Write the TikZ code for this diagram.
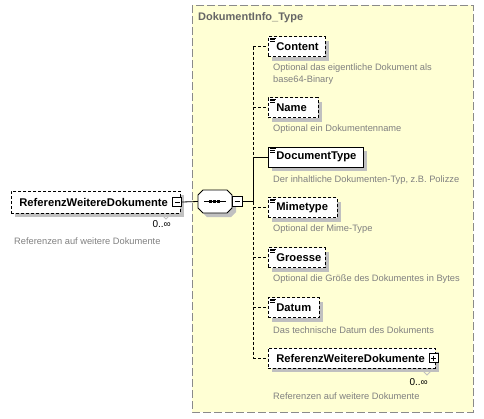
\documentclass[tikz,border=0pt]{standalone}
\usepackage{fontspec}
\setmainfont{Liberation Sans}
\usetikzlibrary{shadows,calc}
\definecolor{ybg}{HTML}{FFFFD4}
\definecolor{ybd}{HTML}{8A8A8A}
\definecolor{dsc}{HTML}{808080}
\definecolor{shd}{HTML}{C0C0C0}
\begin{document}
\begin{tikzpicture}[x=1pt,y=-1pt,
  elem/.style={draw=black, fill=white, line width=0.8pt, anchor=west, minimum height=20pt,
    inner xsep=8pt, inner ysep=0pt, font=\bfseries\fontsize{11.2}{13}\selectfont,
    drop shadow={shadow xshift=4pt, shadow yshift=-4pt, fill=shd, opacity=1}},
  opt/.style={elem, dash pattern=on 3pt off 2pt},
  desc/.style={anchor=west, text=dsc, font=\fontsize{9.3}{12}\selectfont, inner sep=0pt, align=left},
  mult/.style={anchor=east, font=\fontsize{10}{12}\selectfont, inner sep=0pt},
  pmbox/.style={draw=black, fill=white, line width=0.8pt, minimum size=9pt, inner sep=0pt},
  conn/.style={line width=0.8pt},
  optconn/.style={conn, dash pattern=on 3pt off 2pt}
]
\useasboundingbox (0,0) rectangle (484,418);
% container
\draw[ybd, fill=ybg, line width=1pt, dash pattern=on 8pt off 3pt] (192,5) rectangle (473,412);
\node[anchor=west, text=black!60, font=\bfseries\fontsize{11}{13}\selectfont, inner sep=0pt] (title) at (198,18) {DokumentInfo\_Type};

% left element
\node[opt, minimum height=22pt] (ref) at (11,202) {\makebox[153pt][l]{ReferenzWeitereDokumente}};
\draw[shd, line width=0.8pt] (162,215) -- (166,219) -- (170,215);
\node[pmbox] (refm) at ($(ref.east)+(-3.5,0)$) {};
\draw[line width=0.8pt] ($(refm.center)+(-2.5,0)$) -- ($(refm.center)+(2.5,0)$);
\node[mult] (refmult) at (171,224) {0..∞};
\node[desc] (refd) at (14,241) {Referenzen auf weitere Dokumente};

% sequence compositor
\node[minimum width=33pt, minimum height=23pt, inner sep=0pt] (seq) at (214.5,201.5) {};
\fill[shd] (207,194) -- (231,194) -- (236,199) -- (236,212) -- (231,217) -- (207,217) -- (202,212) -- (202,199) -- cycle;
\draw[fill=white, line width=0.8pt] (203,190) -- (227,190) -- (232,195) -- (232,208) -- (227,213) -- (203,213) -- (198,208) -- (198,195) -- cycle;
\draw[line width=0.8pt] (204,201.5) -- (226,201.5);
\foreach \xx in {210.5,214.5,218.5} \fill (\xx-1.3,200.2) rectangle (\xx+1.3,202.8);
\node[pmbox, minimum size=10pt] (seqm) at (237,201.5) {};
\draw[line width=0.8pt] ($(seqm.center)+(-2.5,0)$) -- ($(seqm.center)+(2.5,0)$);
\draw[conn] (refm.east) -- (seq.west);
\coordinate (bus) at (253,201.5);
\draw[conn] (seqm.east) -- (bus);

% child elements
\node[opt] (content) at (268,46.5) {\makebox[41pt][l]{Content}};
\node[opt] (name) at (268,107.5) {\makebox[34pt][l]{Name}};
\node[elem] (doctype) at (268,157) {\makebox[79pt][l]{DocumentType}};
\node[opt] (mime) at (268,207.5) {\makebox[53pt][l]{Mimetype}};
\node[opt] (groesse) at (268,257.5) {\makebox[41pt][l]{Groesse}};
\node[opt] (datum) at (268,307.5) {\makebox[35pt][l]{Datum}};
\node[opt] (ref2) at (268,358) {\makebox[151pt][l]{ReferenzWeitereDokumente}};
\draw[shd, line width=0.8pt] (423,371) -- (427,375) -- (431,371);
\node[pmbox] (ref2p) at ($(ref2.east)+(-2,0)$) {};
\draw[line width=0.8pt] ($(ref2p.center)+(-2.5,0)$) -- ($(ref2p.center)+(2.5,0)$)
  ($(ref2p.center)+(0,-2.5)$) -- ($(ref2p.center)+(0,2.5)$);
\node[mult] (ref2mult) at (428,382) {0..∞};

% simple-content icons
\foreach \n in {content,name,doctype,mime,groesse,datum}{
  \draw[line width=0.45pt] ($(\n.north west)+(2,1.8)$) -- ++(5.5,0)
    ($(\n.north west)+(2,3.6)$) -- ++(4.5,0)
    ($(\n.north west)+(2,5.4)$) -- ++(4.5,0);
}

% descriptions
\node[desc] (contentd) at (273,74) {Optional das eigentliche Dokument als\\base64-Binary};
\node[desc] (named) at (273,129) {Optional ein Dokumentenname};
\node[desc] (doctyped) at (273,180) {Der inhaltliche Dokumenten-Typ, z.B. Polizze};
\node[desc] (mimed) at (273,229) {Optional der Mime-Type};
\node[desc] (groessed) at (273,279.5) {Optional die Größe des Dokumentes in Bytes};
\node[desc] (datumd) at (273,330) {Das technische Datum des Dokuments};
\node[desc] (ref2d) at (273,396) {Referenzen auf weitere Dokumente};

% bus
\draw[optconn] (content.west -| bus) -- (doctype.west -| bus);
\draw[conn] (doctype.west -| bus) -- (bus);
\draw[optconn] (bus) -- (ref2.west -| bus);
\foreach \n in {content,name,mime,groesse,datum,ref2}
  \draw[optconn] (\n.west -| bus) -- (\n.west);
\draw[conn] (doctype.west -| bus) -- (doctype.west);
\end{tikzpicture}
\end{document}
